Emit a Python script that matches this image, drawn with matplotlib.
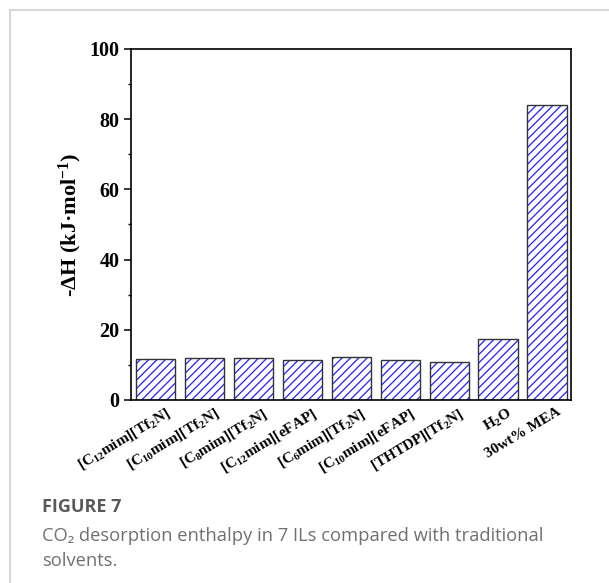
import numpy as np
import matplotlib
matplotlib.use('Agg')
import matplotlib.pyplot as plt
import matplotlib.transforms as mtrans
from matplotlib.lines import Line2D
from matplotlib.ticker import MultipleLocator

labels = [r'[C$_{12}$mim][Tf$_2$N]', r'[C$_{10}$mim][Tf$_2$N]', r'[C$_8$mim][Tf$_2$N]',
          r'[C$_{12}$mim][eFAP]', r'[C$_6$mim][Tf$_2$N]', r'[C$_{10}$mim][eFAP]',
          r'[THTDP][Tf$_2$N]', r'H$_2$O', '30wt% MEA']
enthalpy = [11.6, 11.85, 12.0, 11.3, 12.3, 11.4, 10.8, 17.35, 83.9]

plt.rcParams['font.family'] = ['Liberation Serif', 'DejaVu Serif']
plt.rcParams['font.weight'] = 'bold'
plt.rcParams['mathtext.fontset'] = 'custom'
plt.rcParams['mathtext.rm'] = 'Liberation Serif:bold'
plt.rcParams['mathtext.bf'] = 'Liberation Serif:bold'
plt.rcParams['mathtext.default'] = 'bf'
plt.rcParams['hatch.linewidth'] = 0.9

fig = plt.figure(figsize=(6.09, 5.83), dpi=100)
ax = fig.add_axes([0.2146, 0.3139, 0.7229, 0.6021])

x = np.arange(len(labels))
ax.bar(x, enthalpy, width=0.8, color='white', edgecolor='#2020ff', hatch='////', linewidth=0)
ax.bar(x, enthalpy, width=0.8, fill=False, edgecolor='#333333', linewidth=1.0)

ax.set_xlim(-0.51, 8.49)
ax.set_ylim(0, 100)
ax.yaxis.set_major_locator(MultipleLocator(20))
ax.yaxis.set_minor_locator(MultipleLocator(10))
ax.tick_params(axis='y', which='major', length=5, width=1.1, labelsize=14.5, direction='out', pad=3)
ax.tick_params(axis='y', which='minor', length=2.5, width=1.0, direction='out')
ax.tick_params(axis='x', length=0, pad=4, labelsize=11)
ax.set_xticks(x)
ax.set_xticklabels(labels, rotation=31, ha='right', va='top', rotation_mode='anchor')
offset = mtrans.ScaledTranslation(9 / 100, 0, fig.dpi_scale_trans)
for lab in ax.get_xticklabels():
    lab.set_transform(lab.get_transform() + offset)
for s in ax.spines.values():
    s.set_linewidth(1.2)

ax.set_ylabel(r'-ΔH (kJ·mol$^{-1}$)', fontsize=16, fontweight='bold', labelpad=4)

# card border
fig.add_artist(Line2D([10 / 609, 1.0], [1 - 9.5 / 583, 1 - 9.5 / 583], color='#d6d6d6', lw=1.5,
                      transform=fig.transFigure))
fig.add_artist(Line2D([10 / 609, 10 / 609], [0, 1 - 9.5 / 583], color='#d6d6d6', lw=1.5,
                      transform=fig.transFigure))

fig.text(42 / 609, 1 - 512 / 583, 'FIGURE 7', family='Open Sans', fontsize=13, fontweight='bold',
         color='#5a5a5a', ha='left', va='baseline')
fig.text(42 / 609, 1 - 541 / 583, 'CO₂ desorption enthalpy in 7 ILs compared with traditional',
         family=['Open Sans', 'DejaVu Sans'], fontsize=13.2, fontweight='normal', color='#707070',
         ha='left', va='baseline')
fig.text(42 / 609, 1 - 566 / 583, 'solvents.', family='Open Sans', fontsize=13.2, fontweight='normal',
         color='#707070', ha='left', va='baseline')

fig.savefig('out.png', dpi=100)
